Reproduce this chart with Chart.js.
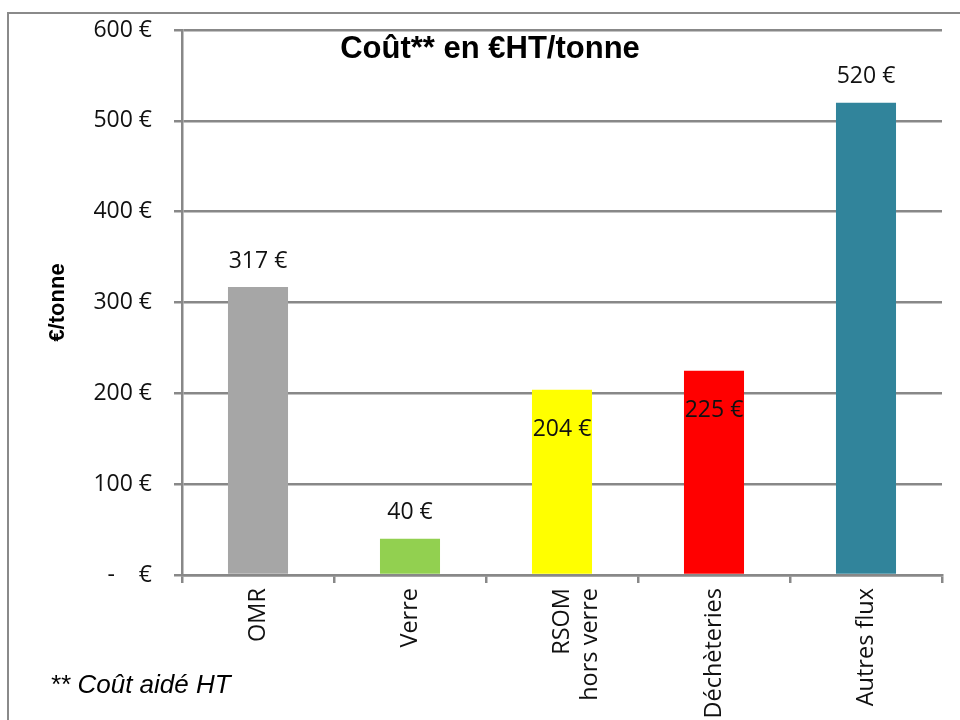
<!DOCTYPE html>
<html>
<head>
<meta charset="utf-8">
<script src="https://cdn.jsdelivr.net/npm/chart.js@4/dist/chart.umd.min.js"></script>
<style>
  html, body { margin: 0; padding: 0; background: #fff; }
  #chart { display: block; }
</style>
</head>
<body>
<canvas id="chart" width="960" height="720"></canvas>
<script>
// ---- data ----
const categories = ['OMR', 'Verre', ['RSOM', 'hors verre'], 'Déchèteries', 'Autres flux'];
const costs = [317, 40, 204, 225, 520];
const barColors = ['#a6a6a6', '#92d050', '#ffff00', '#ff0000', '#31849b'];
const labelPlace = ['above', 'above', 'inside', 'inside', 'above'];
const yTicks = [0, 100, 200, 300, 400, 500, 600];

const GRID = '#888888';
const TXT = '#111111';

function euro(v) {
  return v === 0 ? '-    €' : v + ' €';
}

// frame around the whole picture (runs off right/bottom like the source)
const framePlugin = {
  id: 'frame',
  beforeDraw(chart) {
    const ctx = chart.ctx;
    ctx.save();
    ctx.fillStyle = '#fff';
    ctx.fillRect(0, 0, chart.width, chart.height);
    ctx.strokeStyle = '#8a8a8a';
    ctx.lineWidth = 2;
    ctx.strokeRect(8, 13, chart.width + 20, chart.height + 20);
    ctx.restore();
  }
};

// title inside the plot + footnote
const textPlugin = {
  id: 'texts',
  afterDraw(chart) {
    const ctx = chart.ctx;
    const area = chart.chartArea;
    ctx.save();
    ctx.fillStyle = '#000';
    ctx.textAlign = 'center';
    ctx.textBaseline = 'middle';
    ctx.font = 'bold 31px "Liberation Sans", Arial, sans-serif';
    ctx.fillText('Coût** en €HT/tonne', 490, area.top + 19);
    ctx.textAlign = 'left';
    ctx.font = 'italic 26px "Liberation Sans", Arial, sans-serif';
    ctx.fillText('** Coût aidé HT', 50, 686);
    ctx.restore();
  }
};

// value labels on the bars
const valuePlugin = {
  id: 'values',
  afterDatasetsDraw(chart) {
    const ctx = chart.ctx;
    const meta = chart.getDatasetMeta(0);
    ctx.save();
    ctx.fillStyle = TXT;
    ctx.textAlign = 'center';
    ctx.textBaseline = 'middle';
    ctx.font = '23px "Open Sans", sans-serif';
    meta.data.forEach((bar, i) => {
      const y = labelPlace[i] === 'above' ? bar.y - 26 : bar.y + 40;
      ctx.fillText(euro(costs[i]), bar.x, y);
    });
    ctx.restore();
  }
};

new Chart(document.getElementById('chart'), {
  type: 'bar',
  data: {
    labels: categories,
    datasets: [{
      data: costs,
      backgroundColor: barColors,
      borderWidth: 0,
      categoryPercentage: 1,
      barPercentage: 0.395
    }]
  },
  options: {
    responsive: false,
    devicePixelRatio: 1,
    animation: false,
    layout: { padding: { left: 0, top: 30, right: 18, bottom: 0 } },
    plugins: { legend: { display: false }, tooltip: { enabled: false } },
    scales: {
      x: {
        grid: { display: true, drawOnChartArea: false, drawTicks: true, tickLength: 8, color: GRID, lineWidth: 2.5 },
        border: { display: true, color: GRID, width: 2.5 },
        ticks: {
          color: TXT,
          font: { family: '"Open Sans", sans-serif', size: 23.5 },
          minRotation: 90, maxRotation: 90,
          padding: 5,
          autoSkip: false
        },
        afterFit(scale) { scale.height = 145; }
      },
      y: {
        min: 0, max: 600,
        afterBuildTicks(scale) { scale.ticks = yTicks.map(v => ({ value: v })); },
        grid: { color: GRID, lineWidth: 2.5, tickLength: 8, drawTicks: true },
        border: { display: true, color: GRID, width: 2.5 },
        ticks: {
          color: TXT,
          font: { family: '"Open Sans", sans-serif', size: 23 },
          padding: 22,
          callback: v => euro(v)
        },
        title: {
          display: true,
          text: '€/tonne',
          color: '#000',
          font: { family: '"Liberation Sans", Arial, sans-serif', size: 22, weight: 'bold' },
          padding: { top: 45, bottom: 0 }
        },
        afterFit(scale) {
          scale.width = 182;
          scale.paddingTop = 0;
          scale.paddingBottom = 0;
        }
      }
    }
  },
  plugins: [framePlugin, textPlugin, valuePlugin]
});
</script>
</body>
</html>
